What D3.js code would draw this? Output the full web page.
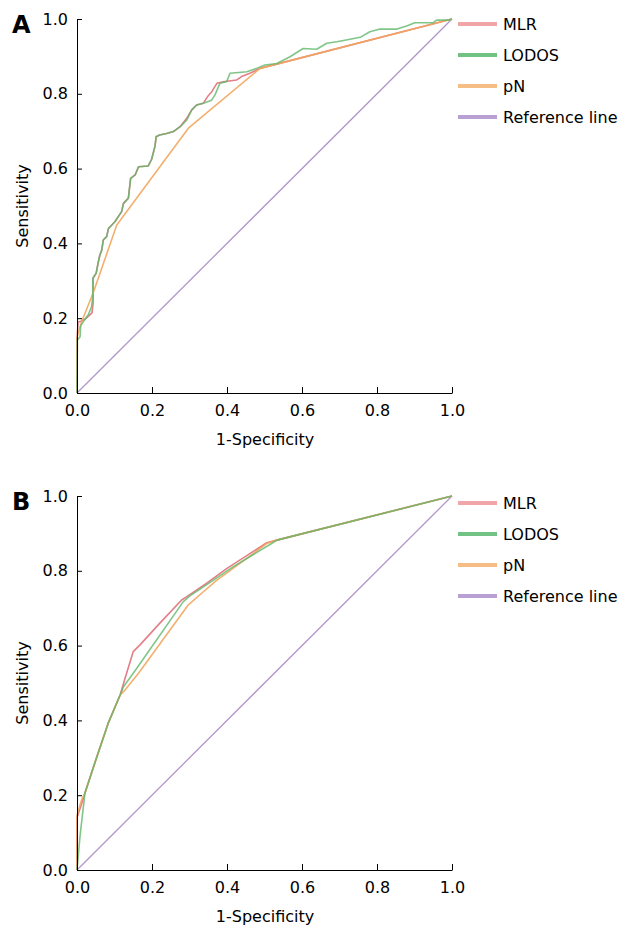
<!DOCTYPE html>
<html>
<head>
<meta charset="utf-8">
<script src="https://cdn.jsdelivr.net/npm/d3@7"></script>
<style>
  html, body { margin: 0; padding: 0; background: #fff; }
  svg { display: block; font-family: "DejaVu Sans", Verdana, sans-serif; }
</style>
</head>
<body>
<svg id="chart" width="630" height="935"></svg>
<script>
// ---------- data ----------
const seriesNames = ["MLR", "LODOS", "pN", "Reference line"];
const tickValues = [0, 0.2, 0.4, 0.6, 0.8, 1.0];
const panelLabels = ["A", "B"];
const xTitle = "1-Specificity";
const yTitle = "Sensitivity";

// Panel A ROC points [1-specificity, sensitivity]
const A_MLR = [[0,0],[0,0.145],[0.003,0.19],[0.010,0.192],[0.021,0.197],[0.030,0.205],[0.040,0.214],[0.043,0.24],[0.043,0.307],[0.051,0.320],[0.057,0.351],[0.061,0.369],[0.066,0.382],[0.070,0.409],[0.079,0.418],[0.084,0.440],[0.101,0.458],[0.119,0.485],[0.124,0.507],[0.137,0.521],[0.143,0.574],[0.155,0.583],[0.164,0.605],[0.190,0.607],[0.199,0.625],[0.208,0.660],[0.211,0.685],[0.220,0.690],[0.239,0.694],[0.257,0.699],[0.275,0.712],[0.293,0.735],[0.306,0.757],[0.319,0.770],[0.337,0.775],[0.350,0.795],[0.359,0.805],[0.373,0.828],[0.390,0.832],[0.426,0.837],[0.439,0.846],[0.461,0.855],[0.488,0.868],[1,1]];
const A_LODOS = [[0,0],[0.001,0.142],[0.008,0.150],[0.010,0.180],[0.021,0.197],[0.030,0.209],[0.039,0.231],[0.042,0.257],[0.042,0.307],[0.051,0.320],[0.057,0.351],[0.061,0.369],[0.066,0.382],[0.070,0.409],[0.079,0.418],[0.084,0.440],[0.101,0.458],[0.119,0.485],[0.124,0.507],[0.137,0.521],[0.143,0.574],[0.155,0.583],[0.164,0.605],[0.190,0.607],[0.199,0.625],[0.208,0.660],[0.211,0.685],[0.220,0.690],[0.239,0.694],[0.257,0.699],[0.275,0.712],[0.293,0.730],[0.306,0.757],[0.319,0.770],[0.337,0.775],[0.359,0.783],[0.368,0.797],[0.381,0.828],[0.399,0.832],[0.408,0.855],[0.453,0.859],[0.479,0.868],[0.501,0.877],[0.533,0.881],[0.568,0.899],[0.603,0.921],[0.639,0.919],[0.666,0.935],[0.693,0.939],[0.728,0.946],[0.755,0.951],[0.781,0.966],[0.808,0.973],[0.853,0.973],[0.879,0.981],[0.901,0.990],[0.950,0.990],[0.959,0.997],[0.990,0.997],[1,1]];
const A_pN = [[0,0],[0,0.150],[0.012,0.190],[0.044,0.270],[0.106,0.449],[0.297,0.708],[0.488,0.868],[1,1]];

// Panel B ROC points
const B_MLR = [[0,0],[0,0.140],[0.010,0.170],[0.021,0.205],[0.053,0.303],[0.083,0.392],[0.115,0.468],[0.128,0.512],[0.150,0.584],[0.168,0.602],[0.221,0.660],[0.279,0.722],[0.293,0.731],[0.346,0.767],[0.399,0.806],[0.506,0.875],[0.533,0.882],[1,1]];
const B_LODOS = [[0,0],[0.008,0.090],[0.021,0.205],[0.053,0.303],[0.083,0.392],[0.115,0.468],[0.124,0.490],[0.159,0.539],[0.283,0.717],[0.301,0.733],[0.346,0.763],[0.417,0.811],[0.519,0.873],[0.533,0.882],[1,1]];
const B_pN = [[0,0],[0,0.147],[0.013,0.190],[0.021,0.205],[0.053,0.303],[0.083,0.392],[0.115,0.468],[0.128,0.481],[0.164,0.526],[0.297,0.709],[0.337,0.744],[0.373,0.775],[0.417,0.807],[0.506,0.873],[0.533,0.882],[1,1]];

const refLine = [[0,0],[1,1]];

// ---------- styles ----------
const curveColors = { "MLR": "#e0707a", "LODOS": "#5fb86a", "pN": "#f2a65e", "Reference line": "#a98bc4" };
const legendColors = { "MLR": "#f2a5a8", "LODOS": "#72c383", "pN": "#f6bd85", "Reference line": "#b9a0d2" };

const svg = d3.select("#chart");

function drawPanel(cfg) {
  const x = d3.scaleLinear().domain([0, 1]).range([77, 452]);
  const y = d3.scaleLinear().domain([0, 1]).range([cfg.bottom, cfg.top]);
  const g = svg.append("g");

  const line = d3.line().x(d => x(d[0])).y(d => y(d[1]));

  const series = [
    { name: "Reference line", data: refLine },
    { name: "MLR", data: cfg.MLR },
    { name: "pN", data: cfg.pN },
    { name: "LODOS", data: cfg.LODOS }
  ];
  g.selectAll("path.curve").data(series).join("path")
    .attr("class", "curve")
    .attr("d", d => line(d.data))
    .attr("fill", "none")
    .attr("stroke", d => curveColors[d.name])
    .attr("stroke-width", d => d.name === "Reference line" ? 1.3 : 1.6)
    .attr("stroke-opacity", d => d.name === "LODOS" ? 0.8 : 0.9)
    .attr("stroke-linejoin", "round");

  // axes
  const yAxis = d3.axisLeft(y).tickValues(tickValues).tickFormat(d3.format(".1f"))
    .tickSizeInner(-5).tickSizeOuter(0).tickPadding(9);
  const xAxis = d3.axisBottom(x).tickValues(tickValues).tickFormat(d3.format(".1f"))
    .tickSizeInner(-6).tickSizeOuter(0).tickPadding(12);

  const ya = g.append("g").attr("transform", "translate(77,0)").call(yAxis);
  const xa = g.append("g").attr("transform", `translate(0,${cfg.bottom})`).call(xAxis);
  [ya, xa].forEach(a => {
    a.selectAll("text").attr("font-size", 16).attr("font-family", "DejaVu Sans").attr("fill", "#000");
    a.selectAll("line, path").attr("stroke", "#000").attr("stroke-width", 1);
  });

  // titles
  g.append("text").attr("x", 265).attr("y", cfg.bottom + 52)
    .attr("text-anchor", "middle").attr("font-size", 16).text(xTitle);
  g.append("text")
    .attr("transform", `translate(28,${(cfg.top + cfg.bottom) / 2}) rotate(-90)`)
    .attr("text-anchor", "middle").attr("font-size", 16).text(yTitle);

  // panel letter
  g.append("text").attr("x", 12).attr("y", cfg.top + 14)
    .attr("font-size", 24).attr("font-weight", "bold").text(cfg.label);

  // legend
  const leg = g.append("g");
  const items = leg.selectAll("g").data(seriesNames).join("g")
    .attr("transform", (d, i) => `translate(458,${cfg.legendTop + i * 31})`);
  items.append("line").attr("x1", 0).attr("x2", 39).attr("y1", 0).attr("y2", 0)
    .attr("stroke", d => legendColors[d]).attr("stroke-width", 4);
  items.append("text").attr("x", 45).attr("y", 0).attr("dy", "0.35em")
    .attr("font-size", 16).text(d => d);
}

drawPanel({ label: panelLabels[0], top: 19, bottom: 393, legendTop: 24, MLR: A_MLR, LODOS: A_LODOS, pN: A_pN });
drawPanel({ label: panelLabels[1], top: 496, bottom: 870, legendTop: 503, MLR: B_MLR, LODOS: B_LODOS, pN: B_pN });
</script>
</body>
</html>
